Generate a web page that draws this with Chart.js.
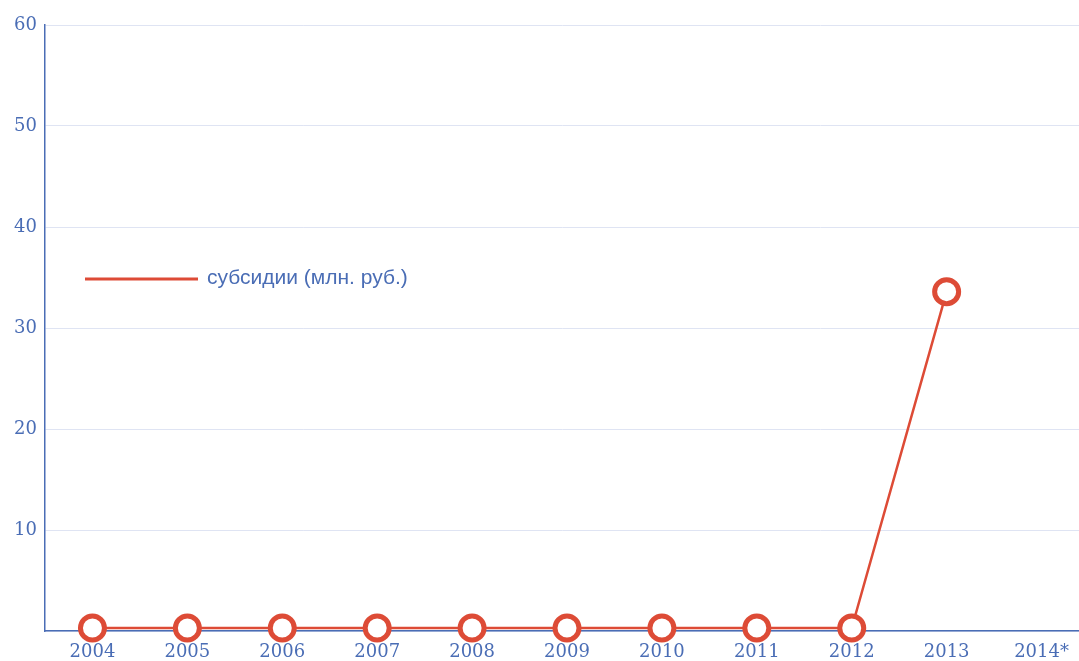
<html>
<head>
<style>
  html, body { margin: 0; padding: 0; background: #fff; }
  #wrap { width: 1079px; height: 661px; }
</style>
</head>
<body>
<div id="wrap">
  <canvas id="myChart"></canvas>
</div>
<script src="https://cdn.jsdelivr.net/npm/chart.js"></script>
<script>
const labels = ['2004', '2005', '2006', '2007', '2008', '2009', '2010', '2011', '2012', '2013', '2014*'];
const subsidies = [0.3, 0.3, 0.3, 0.3, 0.3, 0.3, 0.3, 0.3, 0.3, 33.6, null];
const yTicks = [0, 10, 20, 30, 40, 50, 60];

const blue = '#4a6db5';
const red = '#dd4b36';

// legend drawn inside the plot, like the original
const innerLegend = {
  id: 'innerLegend',
  afterDraw(chart) {
    const ctx = chart.ctx;
    const ds = chart.data.datasets[0];
    ctx.save();
    ctx.strokeStyle = red;
    ctx.lineWidth = 3;
    ctx.beginPath();
    ctx.moveTo(85, 279);
    ctx.lineTo(198, 279);
    ctx.stroke();
    ctx.fillStyle = blue;
    ctx.font = '21px "Liberation Sans", Arial, sans-serif';
    ctx.textBaseline = 'middle';
    ctx.fillText(ds.label, 207, 278);
    ctx.restore();
  }
};

// the original's category band runs a bit past the right edge
const widenX = {
  id: 'widenX',
  afterLayout(chart) {
    const x = chart.scales.x;
    x.right = x.left + 1044;
    x.width = 1044;
    x.configure();
  }
};

const data = {
  labels: labels,
  datasets: [{
    label: 'субсидии (млн. руб.)',
    data: subsidies,
    borderColor: red,
    borderWidth: 2.5,
    backgroundColor: '#fff',
    pointRadius: 12,
    pointBorderWidth: 5,
    pointBorderColor: red,
    pointBackgroundColor: '#fff',
    tension: 0,
    clip: false
  }]
};

const config = {
  type: 'line',
  data: data,
  plugins: [innerLegend, widenX],
  options: {
    responsive: true,
    maintainAspectRatio: false,
    animation: false,
    layout: { autoPadding: false, padding: { top: 25, right: 0, left: 0, bottom: 0 } },
    plugins: {
      legend: { display: false },
      tooltip: { enabled: false }
    },
    scales: {
      x: {
        offset: true,
        grid: { display: false, drawTicks: false },
        border: { display: true, color: blue, width: 1.5 },
        ticks: {
          color: blue,
          padding: 11,
          maxRotation: 0,
          font: { family: '"DejaVu Serif", "Liberation Serif", serif', size: 18 }
        },
        afterFit: s => { s.height = 30; }
      },
      y: {
        min: 0,
        max: 60,
        afterBuildTicks: s => { s.ticks = yTicks.map(v => ({ value: v })); },
        grid: { color: '#dfe4f3', lineWidth: 1, drawTicks: false },
        border: { display: true, color: blue, width: 1.5 },
        ticks: {
          color: blue,
          padding: 8,
          font: { family: '"DejaVu Serif", "Liberation Serif", serif', size: 18 },
          callback: v => v === 0 ? '' : v
        },
        afterFit: s => { s.width = 45; }
      }
    }
  }
};

const myChart = new Chart(document.getElementById('myChart'), config);
</script>
</body>
</html>
